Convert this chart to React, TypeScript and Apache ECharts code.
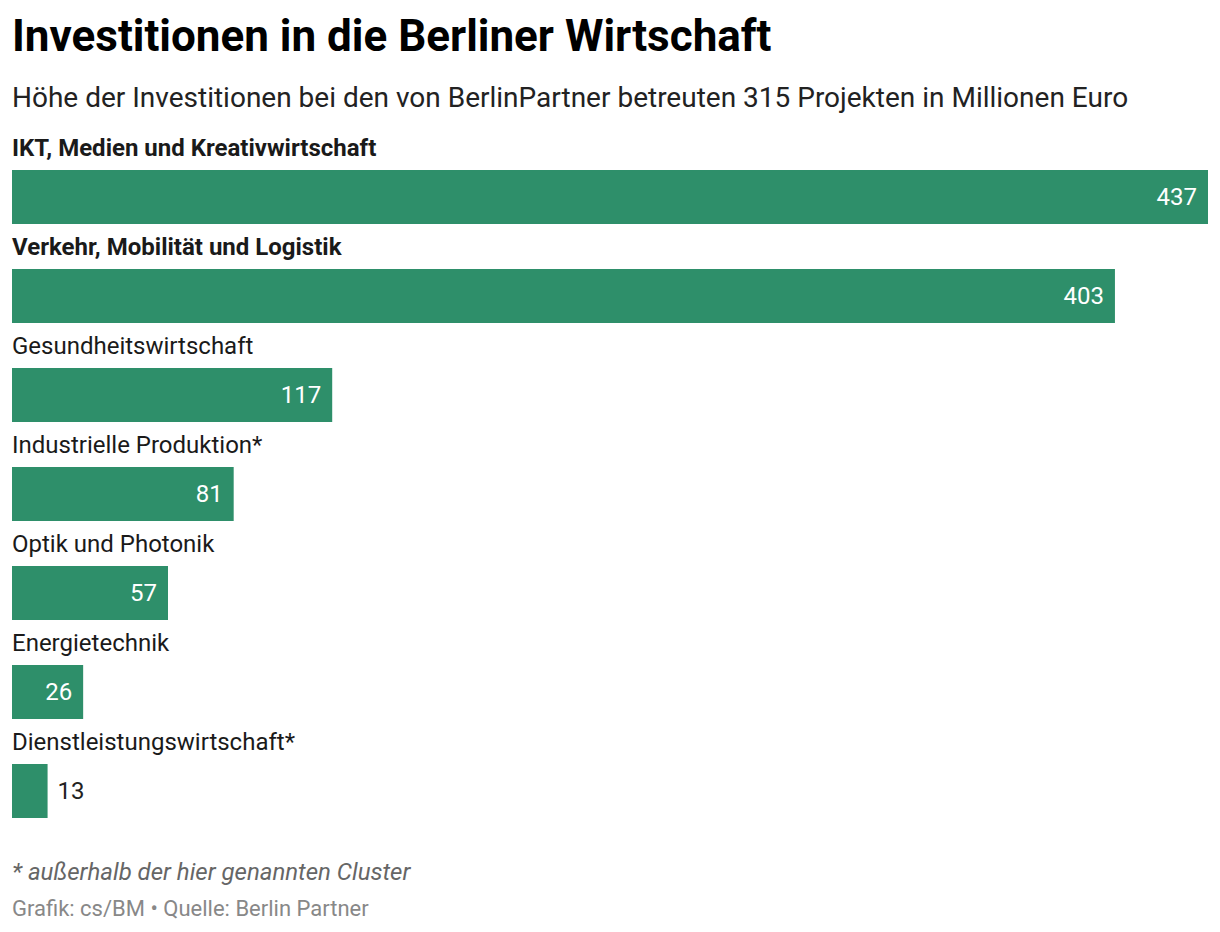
import React, { useEffect, useRef } from "react";
import * as echarts from "echarts";

const categories = [
  "IKT, Medien und Kreativwirtschaft",
  "Verkehr, Mobilität und Logistik",
  "Gesundheitswirtschaft",
  "Industrielle Produktion*",
  "Optik und Photonik",
  "Energietechnik",
  "Dienstleistungswirtschaft*",
];
const values = [437, 403, 117, 81, 57, 26, 13];
const boldCount = 2;

const FONT = "Roboto, 'Noto Sans', sans-serif";
const GREEN = "#2e8f6a";

export default function App() {
  const ref = useRef<HTMLDivElement>(null);
  useEffect(() => {
    if (!ref.current) return;
    const chart = echarts.init(ref.current, null, { renderer: "svg" });
    const data = values.map((v) =>
      v < 20
        ? { value: v, label: { position: "right", color: "#222", distance: 10 } }
        : { value: v }
    );
    chart.setOption({
      animation: false,
      backgroundColor: "#fff",
      textStyle: { fontFamily: FONT },
      title: [
        {
          text: "Investitionen in die Berliner Wirtschaft",
          left: 12,
          top: 14,
          padding: 0,
          textStyle: { fontFamily: FONT, fontSize: 44, fontWeight: "bold", color: "#000" },
        },
        {
          text: "Höhe der Investitionen bei den von BerlinPartner betreuten 315 Projekten in Millionen Euro",
          left: 12,
          top: 83,
          padding: 0,
          textStyle: { fontFamily: FONT, fontSize: 28, fontWeight: "normal", color: "#222" },
        },
        {
          text: "* außerhalb der hier genannten Cluster",
          left: 12,
          top: 860,
          padding: 0,
          textStyle: { fontFamily: FONT, fontSize: 24, fontStyle: "italic", fontWeight: "normal", color: "#666" },
        },
        {
          text: "Grafik: cs/BM • Quelle: Berlin Partner",
          left: 12,
          top: 897,
          padding: 0,
          textStyle: { fontFamily: FONT, fontSize: 22, fontWeight: "normal", color: "#888" },
        },
      ],
      grid: { left: 12, right: 12, top: 147.5, bottom: 91.5, containLabel: false },
      xAxis: { type: "value", min: 0, max: 437, show: false },
      yAxis: {
        type: "category",
        data: categories,
        inverse: true,
        axisLine: { show: false },
        axisTick: { show: false },
        splitLine: { show: false },
        axisLabel: {
          inside: true,
          margin: 0,
          align: "left",
          verticalAlign: "bottom",
          padding: [0, 0, 37, 0],
          formatter: (v: string, i: number) => (i < boldCount ? `{b|${v}}` : `{n|${v}}`),
          rich: {
            b: { fontFamily: FONT, fontSize: 24, fontWeight: "bold", color: "#1a1a1a", lineHeight: 24 },
            n: { fontFamily: FONT, fontSize: 24, fontWeight: "normal", color: "#1a1a1a", lineHeight: 24 },
          },
        },
        z: 10,
      },
      series: [
        {
          type: "bar",
          data,
          barWidth: 54,
          itemStyle: { color: GREEN },
          label: {
            show: true,
            position: "insideRight",
            distance: 11,
            color: "#fff",
            fontFamily: FONT,
            fontSize: 24,
          },
        },
      ],
    });
    return () => chart.dispose();
  }, []);
  return (
    <div
      ref={ref}
      style={{ position: "absolute", left: 0, top: 0, width: 1220, height: 932 }}
    />
  );
}
